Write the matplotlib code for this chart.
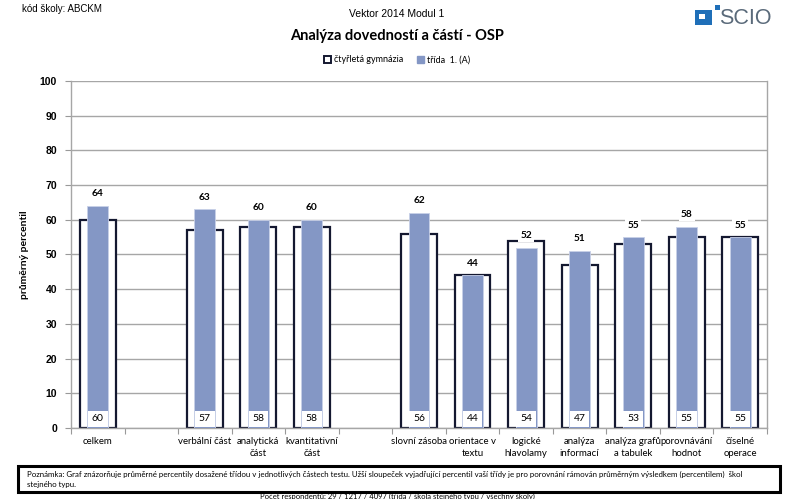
import matplotlib
matplotlib.use("Agg")
import matplotlib.pyplot as plt
from matplotlib.patches import Patch, Rectangle
import numpy as np

categories = ["celkem", "", "verbální část", "analytická\nčást", "kvantitativní\nčást", "",
              "slovní zásoba", "orientace v\ntextu", "logické\nhlavolamy", "analýza\ninformací",
              "analýza grafů\na tabulek", "porovnávání\nhodnot", "číselné\noperace"]
school_vals = [60, None, 57, 58, 58, None, 56, 44, 54, 47, 53, 55, 55]
class_vals = [64, None, 63, 60, 60, None, 62, 44, 52, 51, 55, 58, 55]
yticks = [0, 10, 20, 30, 40, 50, 60, 70, 80, 90, 100]

FONT = ["Lato", "DejaVu Sans"]
plt.rcParams['font.family'] = FONT

fig = plt.figure(figsize=(7.92, 4.99), dpi=100)
ax = fig.add_axes([71/792, 71/499, 696/792, 347/499])

x = np.arange(len(categories))
navy = "#141830"
blue = "#8497c5"

for xi, s, c in zip(x, school_vals, class_vals):
    if s is None:
        continue
    ax.bar(xi, s, width=0.67, facecolor="white", edgecolor=navy, linewidth=1.6, zorder=2)
    ax.bar(xi, c, width=0.39, facecolor=blue, edgecolor="#c8d0e8", linewidth=0.6, zorder=3)
    ax.text(xi, c + 2.2, str(c), ha="center", va="bottom", fontsize=7.3, fontweight="bold",
            zorder=5, bbox=dict(facecolor="white", edgecolor="none", pad=1.5))
    ax.text(xi, 2.6, str(s), ha="center", va="center", fontsize=7.5, zorder=5,
            bbox=dict(facecolor="white", edgecolor="none", pad=2.8))

ax.set_xlim(-0.5, len(categories) - 0.5)
ax.set_ylim(0, 100)
ax.set_yticks(yticks)
ax.set_yticklabels([str(v) for v in yticks], fontsize=7.5, fontweight="bold",
                   family=["Liberation Sans", "DejaVu Sans"])
ax.set_xticks(np.arange(len(categories) + 1) - 0.5, minor=False)
ax.set_xticklabels([])
ax.tick_params(axis="x", length=4, color="#999999", direction="out")
ax.tick_params(axis="y", length=4, color="#999999", direction="out", pad=6)
for xi, lab in zip(x, categories):
    ax.text(xi, -2.5, lab, ha="center", va="top", fontsize=6.9, linespacing=1.45)

ax.yaxis.grid(True, color="#a6a6a6", linewidth=1.0, zorder=0)
ax.set_axisbelow(True)
ax.spines["top"].set_visible(False)
for sp in ["left", "right", "bottom"]:
    ax.spines[sp].set_color("#a6a6a6")
    ax.spines[sp].set_linewidth(1.0)

ax.set_ylabel("průměrný percentil", fontsize=7.5, fontweight="bold", labelpad=8)

# header texts
fig.text(22/792, 1 - 9/499, "kód školy: ABCKM", fontsize=7, va="center",
         family=["Liberation Sans", "DejaVu Sans"])
fig.text(397/792, 1 - 14/499, "Vektor 2014 Modul 1", fontsize=7.5, ha="center", va="center",
         family=["Liberation Sans", "DejaVu Sans"])
fig.text(397/792, 1 - 36/499, "Analýza dovedností a částí - OSP", fontsize=10.5,
         fontweight="bold", ha="center", va="center")

handles = [Patch(facecolor="white", edgecolor=navy, linewidth=1.4, label="čtyřletá gymnázia"),
           Patch(facecolor=blue, edgecolor=blue, label="třída  1. (A)")]
fig.legend(handles=handles, loc="center", bbox_to_anchor=(397/792, 1 - 60/499), ncol=2,
           frameon=False, fontsize=6.5, handlelength=0.8, handleheight=0.8,
           handletextpad=0.3, columnspacing=1.5)

# SCIO logo
fig.patches.append(Rectangle((695/792, 1 - 25/499), 17/792, 15/499, transform=fig.transFigure,
                             facecolor="#1f6fb8", edgecolor="none"))
fig.patches.append(Rectangle((699/792, 1 - 19/499), 6/792, 5/499, transform=fig.transFigure,
                             facecolor="white", edgecolor="none"))
fig.patches.append(Rectangle((715/792, 1 - 10/499), 5/792, 5/499, transform=fig.transFigure,
                             facecolor="#1f6fb8", edgecolor="none"))
fig.text(719/792, 1 - 18/499, "SCIO", fontsize=15.5, color="#5a6a7a", va="center", ha="left",
         family=["Liberation Sans", "DejaVu Sans"])

# note box
fig.patches.append(Rectangle((18/792, 1 - 492/499), 762/792, 26/499, transform=fig.transFigure,
                             facecolor="white", edgecolor="black", linewidth=2.2))
fig.text(27/792, 1 - 474/499,
         "Poznámka: Graf znázorňuje průměrné percentily dosažené třídou v jednotlivých částech testu. "
         "Užší sloupeček vyjadřující percentil vaší třídy je pro porovnání rámován průměrným výsledkem "
         "(percentilem)  škol", fontsize=5.7, va="center")
fig.text(27/792, 1 - 485/499, "stejného typu.", fontsize=5.7, va="center")
fig.text(397/792, 1 - 496.5/499,
         "Počet respondentů: 29 / 1217 / 4097 (třída / škola stejného typu / všechny školy)",
         fontsize=5.5, ha="center", va="center")

fig.savefig("out.png", dpi=100)
